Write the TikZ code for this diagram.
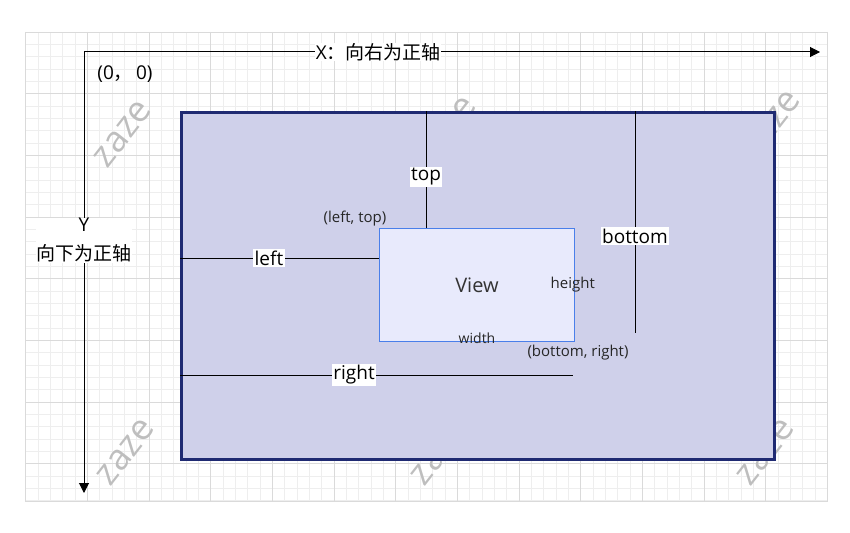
\documentclass[tikz,border=0pt]{standalone}
\usepackage{fontspec}
\setmainfont{Open Sans}
\newfontfamily\cjk{Noto Sans CJK SC}
\usetikzlibrary{arrows.meta,positioning}
\definecolor{gridminor}{HTML}{EEEEEE}
\definecolor{gridmajor}{HTML}{DADADA}
\definecolor{parentfill}{HTML}{CFD0EA}
\definecolor{parentline}{HTML}{1F2A72}
\definecolor{viewfill}{HTML}{E8EAFC}
\definecolor{viewline}{HTML}{4A7FEA}
\definecolor{mark}{HTML}{BEBEBE}
\tikzstyle{axis}=[line width=1pt,-{Triangle[length=10pt,width=10pt]}]
\tikzstyle{dist}=[line width=1pt]
\tikzstyle{lbl}=[fill=white,inner sep=1.5pt,font=\fontsize{19}{21}\selectfont]
\tikzstyle{small}=[inner sep=0pt,font=\fontsize{15}{17}\selectfont,text=black!85]
\tikzstyle{wmark}=[text=mark,rotate=52,font=\fontsize{36}{36}\selectfont]
\tikzstyle{parent}=[draw=parentline,line width=3pt,fill=parentfill,inner sep=0pt,
  minimum width=593pt,minimum height=347pt,anchor=north west]
\tikzstyle{view}=[draw=viewline,line width=1pt,fill=viewfill,inner sep=0pt,
  minimum width=195pt,minimum height=113pt,anchor=north west]

\begin{document}
\begin{tikzpicture}[x=1pt,y=-1pt]
    \useasboundingbox (0,0) rectangle (850,532);
    % grid
    \foreach \i in {0,...,65}
        \draw[gridminor] (25.5+\i*12.333,32) -- (25.5+\i*12.333,500.7);
    \foreach \j in {0,...,38}
        \draw[gridminor] (25.5,32+\j*12.333) -- (827,32+\j*12.333);
    \foreach \i in {0,...,13}
        \draw[gridmajor] (25.5+\i*61.667,32) -- (25.5+\i*61.667,500.7);
    \foreach \j in {0,...,7}
        \draw[gridmajor] (25.5,32+\j*61.667) -- (827,32+\j*61.667);
    \draw[gridmajor] (25.5,32) rectangle (827,500.7);
    % watermarks
    \node[wmark] (wm1) at (123,134) {zaze};
    \node[wmark] (wm2) at (448,130) {zaze};
    \node[wmark] (wm3) at (772,124) {zaze};
    \node[wmark] (wm4) at (126,452) {zaze};
    \node[wmark] (wm5) at (440,452) {zaze};
    \node[wmark] (wm6) at (766,452) {zaze};
    % axes
    \coordinate (o) at (84,52);
    \coordinate (xend) at (820,52);
    \coordinate (yend) at (84,493);
    \node (origin) [font=\fontsize{19}{20}\selectfont,inner sep=0pt] at (125,74) {(0{\cjk ，}\,0)};
    \path[axis]
        (o) edge node[lbl,pos=0.40,inner sep=0.5pt,font=\fontsize{19}{20}\selectfont]{X{\cjk ：向右为正轴}} (xend)
        (o) edge node[lbl,pos=0.427,align=center,inner sep=0.5pt,
            font=\fontsize{19}{29}\selectfont]{Y\\{\cjk 向下为正轴}} (yend);
    % parent and view
    \node[parent] (par) at (180,111) {};
    \node[view] (view) at (379,228) {};
    \node (vtext) [font=\fontsize{20}{22}\selectfont,text=black!80] at (view.center) {View};
    \node (h) [small,anchor=east] at (595,285) {height};
    \node (w) [small,font=\fontsize{14}{16}\selectfont] at (477,338) {width};
    \node (lt) [small] at (355,219) {(left, top)};
    \node (br) [small] at (578,353) {(bottom, right)};
    % distances
    \coordinate (topS) at (426,111);
    \coordinate (leftS) at (180,258);
    \coordinate (leftE) at (379,258);
    \coordinate (botS) at (635,111);
    \coordinate (botE) at (635,333);
    \coordinate (rightS) at (180,375);
    \coordinate (rightE) at (573,375);
    \path[dist]
        (topS) edge node[lbl,pos=0.564]{top} (topS |- view.north)
        (leftS) edge node[lbl,pos=0.447]{left} (leftE)
        (botS) edge node[lbl,pos=0.563]{bottom} (botE)
        (rightS) edge node[lbl,pos=0.443]{right} (rightE);
\end{tikzpicture}
\end{document}
